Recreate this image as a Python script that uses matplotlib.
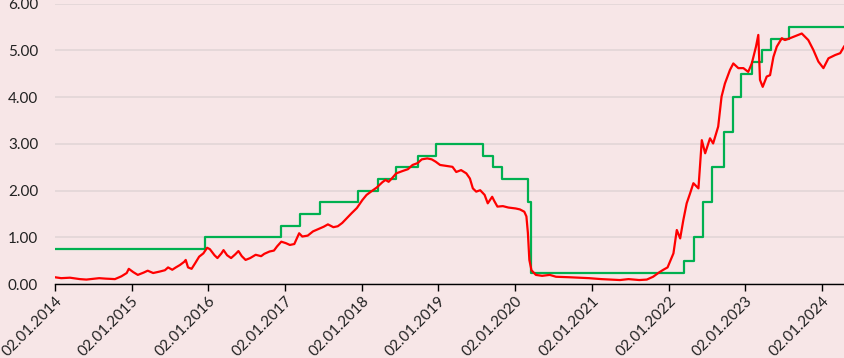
import numpy as np
import pandas as pd
import matplotlib
matplotlib.use('Agg')
import matplotlib.pyplot as plt
import matplotlib.dates as mdates

# red series
red_dates = ['2014-01-02', '2014-02-01', '2014-03-15', '2014-05-01', '2014-06-01', '2014-08-01',
             '2014-09-01', '2014-10-15', '2014-11-15', '2014-12-10', '2014-12-20', '2015-01-10',
             '2015-02-01', '2015-03-01', '2015-03-20', '2015-04-15', '2015-05-15', '2015-06-10',
             '2015-06-25', '2015-07-15', '2015-08-01', '2015-08-20', '2015-09-10', '2015-09-17',
             '2015-09-28', '2015-10-15', '2015-11-01', '2015-11-20', '2015-12-10', '2015-12-28',
             '2016-01-10', '2016-02-01', '2016-02-15', '2016-03-05', '2016-03-15', '2016-04-01',
             '2016-04-20', '2016-05-10', '2016-05-25', '2016-06-10', '2016-06-28', '2016-07-20',
             '2016-08-15', '2016-09-10', '2016-09-25', '2016-10-20', '2016-11-10', '2016-11-25',
             '2016-12-15', '2017-01-05', '2017-01-25', '2017-02-15', '2017-03-10', '2017-03-25',
             '2017-04-20', '2017-05-15', '2017-06-10', '2017-07-05', '2017-07-25', '2017-08-20',
             '2017-09-10', '2017-10-01', '2017-10-20', '2017-11-15', '2017-12-10', '2018-01-05',
             '2018-01-25', '2018-02-15', '2018-03-15', '2018-04-10', '2018-04-25', '2018-05-10',
             '2018-05-25', '2018-06-15', '2018-07-15', '2018-08-10', '2018-09-01', '2018-09-25',
             '2018-10-15', '2018-11-10', '2018-12-01', '2018-12-20', '2019-01-10', '2019-02-10',
             '2019-03-10', '2019-03-28', '2019-04-20', '2019-05-15', '2019-06-01', '2019-06-15',
             '2019-07-01', '2019-07-20', '2019-08-10', '2019-08-25', '2019-09-15', '2019-09-25',
             '2019-10-10', '2019-11-05', '2019-12-01', '2020-01-05', '2020-01-25', '2020-02-15',
             '2020-02-25', '2020-03-03', '2020-03-10', '2020-03-20', '2020-04-10', '2020-05-10',
             '2020-06-15', '2020-07-15', '2020-09-15', '2020-11-01', '2020-12-20', '2021-02-15',
             '2021-04-01', '2021-05-15', '2021-06-25', '2021-08-15', '2021-09-20', '2021-10-20',
             '2021-11-20', '2021-12-08', '2021-12-28', '2022-01-25', '2022-02-10', '2022-02-26',
             '2022-03-13', '2022-03-29', '2022-04-14', '2022-04-30', '2022-05-24', '2022-06-09',
             '2022-06-25', '2022-07-18', '2022-08-02', '2022-08-26', '2022-09-11', '2022-09-27',
             '2022-10-21', '2022-11-06', '2022-11-30', '2022-12-24', '2023-01-16', '2023-02-02',
             '2023-02-22', '2023-03-05', '2023-03-13', '2023-03-26', '2023-04-14', '2023-04-30',
             '2023-05-16', '2023-06-01', '2023-06-25', '2023-07-10', '2023-08-03', '2023-09-28',
             '2023-10-29', '2023-11-22', '2023-12-16', '2024-01-09', '2024-02-02', '2024-03-05',
             '2024-03-29', '2024-04-16']
red_vals = [0.15, 0.13, 0.14, 0.11, 0.10, 0.13,
            0.12, 0.11, 0.17, 0.24, 0.33, 0.26,
            0.20, 0.25, 0.29, 0.24, 0.27, 0.30,
            0.36, 0.31, 0.36, 0.41, 0.48, 0.52,
            0.36, 0.33, 0.45, 0.59, 0.66, 0.78,
            0.75, 0.62, 0.56, 0.66, 0.73, 0.62,
            0.56, 0.64, 0.71, 0.60, 0.52, 0.56,
            0.63, 0.60, 0.65, 0.70, 0.72, 0.81,
            0.91, 0.88, 0.84, 0.86, 1.09, 1.02,
            1.04, 1.13, 1.18, 1.23, 1.28, 1.22,
            1.24, 1.31, 1.40, 1.52, 1.63, 1.80,
            1.91, 1.98, 2.07, 2.18, 2.23, 2.19,
            2.26, 2.37, 2.42, 2.46, 2.55, 2.59,
            2.67, 2.69, 2.67, 2.62, 2.55, 2.53,
            2.51, 2.40, 2.44, 2.37, 2.26, 2.05,
            1.98, 2.01, 1.91, 1.73, 1.87, 1.78,
            1.66, 1.67, 1.64, 1.62, 1.60, 1.55,
            1.45, 1.10, 0.52, 0.30, 0.20, 0.18,
            0.20, 0.16, 0.15, 0.14, 0.13, 0.11,
            0.10, 0.09, 0.11, 0.09, 0.10, 0.16,
            0.26, 0.31, 0.36, 0.66, 1.16, 0.98,
            1.37, 1.73, 1.94, 2.16, 2.05, 3.08,
            2.80, 3.12, 3.01, 3.37, 4.01, 4.29,
            4.58, 4.72, 4.62, 4.62, 4.54, 4.72,
            5.08, 5.33, 4.37, 4.22, 4.44, 4.47,
            4.86, 5.08, 5.26, 5.22, 5.26, 5.36,
            5.22, 5.01, 4.76, 4.62, 4.83, 4.90,
            4.94, 5.08]

# green step series
green_dates = ['2014-01-02', '2015-12-17', '2016-12-15', '2017-03-16', '2017-06-15', '2017-12-14',
               '2018-03-22', '2018-06-14', '2018-09-27', '2018-12-20', '2019-08-01', '2019-09-19',
               '2019-10-31', '2020-03-04', '2020-03-16', '2022-03-17', '2022-05-05', '2022-06-16',
               '2022-07-28', '2022-09-22', '2022-11-03', '2022-12-15', '2023-02-02', '2023-03-23',
               '2023-05-04', '2023-07-27', '2024-04-16']
green_vals = [0.75, 1.00, 1.25, 1.50, 1.75, 2.00,
              2.25, 2.50, 2.75, 3.00, 2.75, 2.50,
              2.25, 1.75, 0.25, 0.50, 1.00, 1.75,
              2.50, 3.25, 4.00, 4.50, 4.75, 5.00,
              5.25, 5.50, 5.50]

tick_dates = ['%d-01-02' % y for y in range(2014, 2025)]

bg = '#F7E6E7'
plt.rcParams['font.family'] = ['Lato', 'DejaVu Sans']

fig = plt.figure(figsize=(8.44, 3.58), dpi=100, facecolor=bg)
ax = fig.add_axes([0.065, 0.206, 0.935, 0.784], facecolor=bg)

ax.plot(pd.to_datetime(green_dates), green_vals, drawstyle='steps-post', color='#00B050', lw=1.6, zorder=3)
ax.plot(pd.to_datetime(red_dates), red_vals, color='#FF0000', lw=1.6, zorder=4)

ax.set_xlim(pd.Timestamp('2014-01-02'), pd.Timestamp('2024-04-16'))
ax.set_ylim(0, 6)
ax.set_yticks(np.arange(0, 7, 1))
ax.set_yticklabels(['%.2f' % v for v in np.arange(0, 7, 1)], fontsize=11, color='#222222')
ax.set_xticks(pd.to_datetime(tick_dates))
ax.xaxis.set_major_formatter(mdates.DateFormatter('%d.%m.%Y'))
plt.setp(ax.get_xticklabels(), rotation=45, ha='right', rotation_mode='anchor', fontsize=11, color='#222222')

ax.grid(axis='y', color='#E2D6D7', lw=1.2)
ax.set_axisbelow(True)
for s in ['top', 'right', 'left']:
    ax.spines[s].set_visible(False)
ax.spines['bottom'].set_color('black')
ax.spines['bottom'].set_linewidth(1.0)
ax.tick_params(axis='y', length=0, pad=12)
ax.tick_params(axis='x', length=5, width=1, color='black', pad=2)

fig.savefig('out.png', dpi=100, facecolor=bg)
